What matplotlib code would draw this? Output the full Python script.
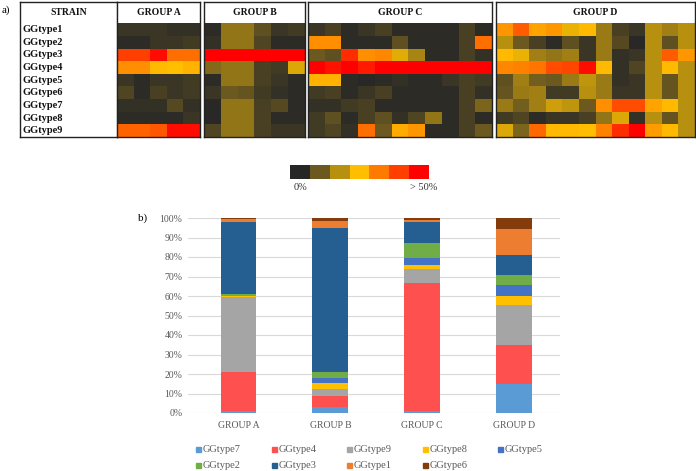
import matplotlib
matplotlib.use("Agg")
import matplotlib.pyplot as plt
import numpy as np
from matplotlib.colors import LinearSegmentedColormap, Normalize
from matplotlib.patches import Rectangle

plt.rcParams['font.family'] = ['Liberation Serif', 'DejaVu Serif']

# ---------------- data ----------------
strains = ["GGtype1", "GGtype2", "GGtype3", "GGtype4", "GGtype5",
           "GGtype6", "GGtype7", "GGtype8", "GGtype9"]
groups = ["GROUP A", "GROUP B", "GROUP C", "GROUP D"]

# heat levels (0 = 0%, 6 = >50%), rows = strains, cols = isolates
heat_a = [
    [0.3, 0.3, 0.3, 0.2, 0.2],
    [0.1, 0.1, 0.3, 0.3, 0.4],
    [5.0, 5.0, 5.8, 4.2, 4.2],
    [3.7, 3.7, 3.1, 3.0, 3.2],
    [0.3, 0.1, 0.3, 0.3, 0.4],
    [0.6, 0.1, 0.5, 0.3, 0.4],
    [0.2, 0.2, 0.2, 0.7, 0.2],
    [0.1, 0.1, 0.1, 0.1, 0.3],
    [4.4, 4.4, 4.6, 5.8, 5.8],
]
heat_b = [
    [0.1, 1.5, 1.5, 0.8, 0.3, 0.4],
    [0.2, 1.5, 1.5, 0.6, 0.1, 0.1],
    [6.0, 6.0, 6.0, 6.0, 6.0, 6.0],
    [1.3, 1.5, 1.5, 0.5, 0.4, 2.5],
    [0.1, 1.5, 1.5, 0.5, 0.3, 0.1],
    [0.3, 1.0, 0.9, 0.4, 0.2, 0.1],
    [0.05, 1.5, 1.5, 0.5, 0.7, 0.1],
    [0.05, 1.5, 1.5, 0.5, 0.1, 0.1],
    [0.6, 1.5, 1.5, 0.5, 0.3, 0.3],
]
heat_c = [
    [0.3, 0.5, 0.1, 0.3, 0.5, 0.1, 0.1, 0.1, 0.1, 0.5, 0.1],
    [3.7, 3.7, 0.1, 0.1, 0.1, 0.8, 0.1, 0.1, 0.1, 0.5, 4.2],
    [1.0, 0.8, 5.3, 3.7, 3.8, 2.6, 1.8, 0.1, 0.1, 0.5, 0.2],
    [6.0, 5.7, 6.0, 5.6, 6.0, 6.0, 6.0, 6.0, 6.0, 6.0, 6.0],
    [3.2, 3.2, 0.1, 0.05, 0.1, 0.2, 0.1, 0.1, 0.3, 0.5, 0.4],
    [0.4, 0.5, 0.1, 0.3, 0.5, 0.1, 0.1, 0.1, 0.1, 0.5, 0.2],
    [0.2, 0.2, 0.4, 0.5, 0.1, 0.1, 0.1, 0.1, 0.1, 0.5, 1.2],
    [0.4, 0.8, 0.1, 0.5, 0.8, 0.2, 0.6, 1.5, 0.1, 0.5, 0.1],
    [0.4, 0.6, 0.2, 4.2, 1.0, 3.3, 3.6, 0.1, 0.1, 0.5, 1.0],
]
heat_d = [
    [3.6, 4.5, 3.4, 3.6, 2.7, 3.1, 1.6, 0.5, 0.3, 2.0, 1.7, 2.0],
    [2.0, 1.0, 0.5, 0.1, 0.8, 0.3, 1.6, 0.7, 0.05, 2.0, 0.8, 2.0],
    [3.1, 2.7, 1.7, 1.5, 1.7, 0.3, 1.6, 0.2, 0.3, 2.0, 4.5, 3.6],
    [3.8, 3.9, 4.1, 4.8, 4.9, 5.8, 3.1, 0.2, 0.6, 2.0, 3.1, 2.0],
    [0.8, 1.7, 1.1, 1.0, 1.6, 2.1, 1.6, 0.2, 0.3, 2.0, 0.9, 2.0],
    [0.9, 1.6, 1.7, 0.4, 0.4, 2.0, 1.6, 0.3, 0.3, 2.0, 0.9, 2.0],
    [1.6, 1.1, 1.7, 2.3, 2.1, 1.0, 3.7, 4.8, 4.8, 3.4, 3.1, 2.0],
    [0.4, 0.6, 0.1, 0.3, 0.3, 0.5, 1.5, 2.5, 0.2, 2.0, 0.9, 2.0],
    [2.5, 1.2, 4.3, 3.1, 3.1, 3.0, 3.9, 5.3, 6.0, 3.5, 3.1, 2.0],
]
heat_colors = ["#262626", "#6c5a1f", "#b8900f", "#ffc000", "#ff7a00", "#ff4000", "#ff0000"]
scale_labels = ["0%", "> 50%"]

# stacked bar composition (%), bottom to top
series = ["GGtype7", "GGtype4", "GGtype9", "GGtype8", "GGtype5",
          "GGtype2", "GGtype3", "GGtype1", "GGtype6"]
ggtype7 = [0.8, 3.1, 1.0, 15.0]
ggtype4 = [20.0, 5.8, 65.7, 20.0]
ggtype9 = [38.7, 3.4, 7.1, 20.4]
ggtype8 = [0.3, 2.9, 2.1, 4.4]
ggtype5 = [0.3, 2.9, 3.7, 6.0]
ggtype2 = [1.0, 3.1, 7.6, 4.8]
ggtype3 = [37.0, 73.7, 10.9, 10.4]
ggtype1 = [1.2, 3.6, 1.0, 13.4]
ggtype6 = [0.7, 1.5, 0.9, 5.6]
bar_values = [ggtype7, ggtype4, ggtype9, ggtype8, ggtype5,
              ggtype2, ggtype3, ggtype1, ggtype6]
bar_colors = ["#5b9bd5", "#ff5050", "#a5a5a5", "#ffc000", "#4472c4",
              "#70ad47", "#255e91", "#ed7d31", "#843c0c"]
yticks = [0, 10, 20, 30, 40, 50, 60, 70, 80, 90, 100]

# ---------------- figure ----------------
W, H = 696, 471
fig = plt.figure(figsize=(W / 100, H / 100), dpi=100)


def px_axes(x0, y0, x1, y1):
    return fig.add_axes([x0 / W, 1 - y1 / H, (x1 - x0) / W, (y1 - y0) / H])


def fx(x):
    return x / W


def fy(y):
    return 1 - y / H


cmap = LinearSegmentedColormap.from_list("heat", heat_colors)
norm = Normalize(0, 6)

top, cell_top, bottom = 2.0, 23.3, 137.0
row_h = (bottom - cell_top) / len(strains)
head_units = (cell_top - top) / row_h

# strain label column
ax_s = px_axes(20, top, 117, bottom)
ax_s.set_xlim(0, 1)
ax_s.set_ylim(len(strains), -head_units)
ax_s.set_xticks([])
ax_s.set_yticks([])
for sp in ax_s.spines.values():
    sp.set_linewidth(1.0)
    sp.set_color("#222222")
ax_s.spines['right'].set_color("#9a9a9a")
ax_s.text(0.5, -head_units / 2, "STRAIN", ha="center", va="center",
          fontsize=7, fontweight="bold", color="#111111")
for i, s in enumerate(strains):
    ax_s.text(0.03, i + 0.5, s, ha="left", va="center", fontsize=7.5,
              fontweight="bold", color="#111111")

group_boxes = [(117, 200), (204, 305), (308, 492), (496, 695)]
for (x0, x1), name, data in zip(group_boxes, groups, [heat_a, heat_b, heat_c, heat_d]):
    ax = px_axes(x0, top, x1, bottom)
    arr = np.array(data)
    ncol = arr.shape[1]
    ax.pcolormesh(np.arange(ncol + 1), np.arange(len(strains) + 1), arr,
                  cmap=cmap, norm=norm, shading="flat")
    ax.set_xlim(0, ncol)
    ax.set_ylim(len(strains), -head_units)
    ax.set_xticks([])
    ax.set_yticks([])
    for sp in ax.spines.values():
        sp.set_linewidth(1.0)
        sp.set_color("#222222")
    ax.text(ncol / 2, -head_units / 2, name, ha="center", va="center",
            fontsize=7, fontweight="bold", color="#111111")

fig.text(fx(2), fy(10), "a)", ha="left", va="center", fontsize=8)

# colour scale
ax_c = px_axes(290, 165, 428, 179)
ax_c.imshow(np.arange(len(heat_colors))[None, :], cmap=cmap, norm=norm,
            aspect="auto", extent=(0, len(heat_colors), 0, 1))
ax_c.set_axis_off()
fig.text(fx(301), fy(187.5), scale_labels[0], ha="center", va="center", fontsize=7.5, color="#333333")
fig.text(fx(437), fy(187.5), scale_labels[1], ha="right", va="center", fontsize=7.5, color="#333333")

# ---------------- stacked bars ----------------
ax_b = px_axes(188, 218, 560, 413)
x = np.arange(len(groups))
bottom_acc = np.zeros(len(groups))
for name, vals, col in zip(series, bar_values, bar_colors):
    ax_b.bar(x, vals, bottom=bottom_acc, width=0.39, color=col, label=name,
             zorder=3, linewidth=0)
    bottom_acc += np.array(vals)
ax_b.set_xlim(-0.55, 3.5)
ax_b.set_ylim(0, 100)
ax_b.set_yticks(yticks)
ax_b.set_yticklabels([f"{v}%" for v in yticks])
ax_b.set_xticks(x)
ax_b.set_xticklabels(groups)
ax_b.yaxis.grid(True, color="#d9d9d9", linewidth=0.8, zorder=0)
ax_b.tick_params(length=0, labelsize=7, labelcolor="#595959")
ax_b.tick_params(axis="y", pad=4)
ax_b.tick_params(axis="x", pad=6)
for sp in ax_b.spines.values():
    sp.set_visible(False)

fig.text(fx(138), fy(218), "b)", ha="left", va="center", fontsize=8)

# legend (row-major, 5 per row)
for i, (name, col) in enumerate(zip(series, bar_colors)):
    r, c = divmod(i, 5)
    mx = 196 + c * 75.5
    my = 449 + r * 16
    fig.patches.append(Rectangle((fx(mx), fy(my + 2.5)), 5 / W, 5 / H,
                                 transform=fig.transFigure, color=col))
    fig.text(fx(mx + 7), fy(my), name, ha="left", va="center",
             fontsize=7.5, color="#595959")

fig.savefig("out.png", dpi=100)
